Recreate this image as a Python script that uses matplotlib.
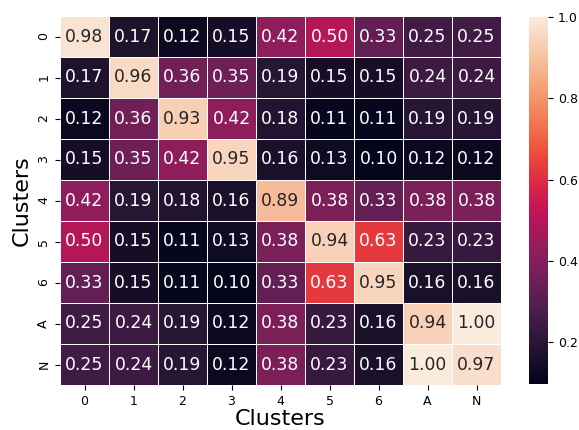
import matplotlib
matplotlib.use("Agg")
import matplotlib.pyplot as plt
import seaborn as sns
import numpy as np

labels = ['0', '1', '2', '3', '4', '5', '6', 'A', 'N']

row_0 = [0.98, 0.17, 0.12, 0.15, 0.42, 0.50, 0.33, 0.25, 0.25]
row_1 = [0.17, 0.96, 0.36, 0.35, 0.19, 0.15, 0.15, 0.24, 0.24]
row_2 = [0.12, 0.36, 0.93, 0.42, 0.18, 0.11, 0.11, 0.19, 0.19]
row_3 = [0.15, 0.35, 0.42, 0.95, 0.16, 0.13, 0.10, 0.12, 0.12]
row_4 = [0.42, 0.19, 0.18, 0.16, 0.89, 0.38, 0.33, 0.38, 0.38]
row_5 = [0.50, 0.15, 0.11, 0.13, 0.38, 0.94, 0.63, 0.23, 0.23]
row_6 = [0.33, 0.15, 0.11, 0.10, 0.33, 0.63, 0.95, 0.16, 0.16]
row_A = [0.25, 0.24, 0.19, 0.12, 0.38, 0.23, 0.16, 0.94, 1.00]
row_N = [0.25, 0.24, 0.19, 0.12, 0.38, 0.23, 0.16, 1.00, 0.97]

matrix = np.array([row_0, row_1, row_2, row_3, row_4, row_5, row_6, row_A, row_N])

fig = plt.figure(figsize=(5.79, 4.30), dpi=100)
ax = fig.add_axes([60/579, 1-385/430, 441/579, 369/430])
cax = fig.add_axes([529/579, 1-384/430, 19/579, 367/430])
sns.heatmap(matrix, ax=ax, cbar_ax=cax, annot=True, fmt='.2f', linewidths=0.5,
            linecolor='white', vmin=0.098, vmax=1.0,
            xticklabels=labels, yticklabels=labels, annot_kws={'size': 12.4})
ax.set_xlabel('Clusters', fontsize=16, labelpad=1)
ax.set_ylabel('Clusters', fontsize=16)
ax.tick_params(labelsize=9)
cax.set_yticks([0.2, 0.4, 0.6, 0.8, 1.0])
cax.tick_params(labelsize=9)
plt.savefig('out.png', dpi=100)
